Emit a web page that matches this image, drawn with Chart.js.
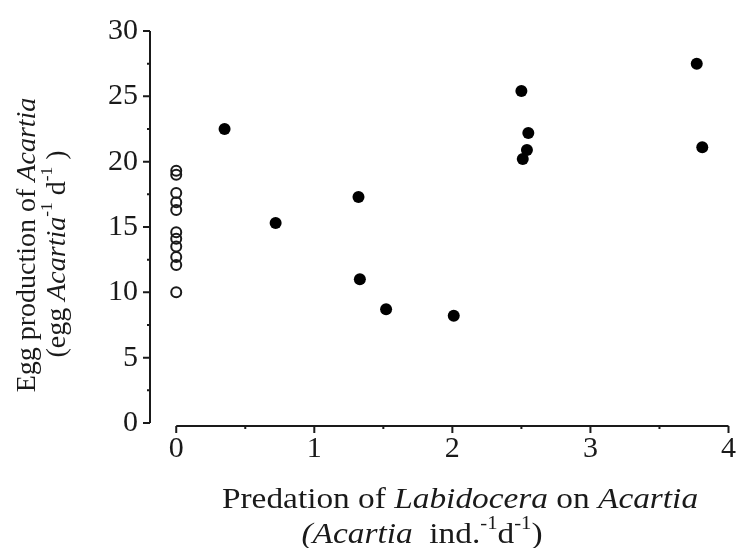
<!DOCTYPE html>
<html>
<head>
<meta charset="utf-8">
<script src="https://cdn.jsdelivr.net/npm/chart.js@4/dist/chart.umd.min.js"></script>
<style>
  html, body { margin: 0; padding: 0; background: #fff; }
  canvas { display: block; }
</style>
</head>
<body>
<canvas id="grafico" width="736" height="548"></canvas>
<script>
// data
const controlX = [0, 0, 0, 0, 0, 0, 0, 0, 0, 0, 0];
const controlY = [19.3, 19.0, 17.6, 16.9, 16.3, 14.6, 14.1, 13.5, 12.7, 12.1, 10.0];
const predationX = [0.35, 0.72, 1.32, 1.33, 1.52, 2.01, 2.50, 2.55, 2.54, 2.51, 3.77, 3.81];
const eggY = [22.5, 15.3, 17.3, 11.0, 8.7, 8.2, 25.4, 22.2, 20.9, 20.2, 27.5, 21.1];
const xTicks = [0, 1, 2, 3, 4];
const yTicks = [0, 5, 10, 15, 20, 25, 30];

const serif = '"Liberation Serif", "Times New Roman", serif';
const ink = "#1a1a1a";

function drawRich(ctx, segs, cx, cy, size, angle, sx) {
  const fontFor = (kind) => {
    const sz = kind === "s" ? size * 0.62 : size;
    return (kind === "i" ? "italic " : "") + sz + "px " + serif;
  };
  let total = 0;
  segs.forEach(([t, k]) => { ctx.font = fontFor(k); total += ctx.measureText(t).width; });
  ctx.save();
  ctx.translate(cx, cy);
  ctx.rotate(angle);
  ctx.scale(sx, 1);
  ctx.fillStyle = ink;
  ctx.textBaseline = "middle";
  ctx.textAlign = "left";
  let x = -total / 2;
  segs.forEach(([t, k]) => {
    ctx.font = fontFor(k);
    ctx.fillText(t, x, k === "s" ? -size * 0.36 : 0);
    x += ctx.measureText(t).width;
  });
  ctx.restore();
}

const axesPlugin = {
  id: "axesPlugin",
  afterDraw(chart) {
    const ctx = chart.ctx;
    const xs = chart.scales.x, ys = chart.scales.y;
    const left = chart.chartArea.left;
    const base = chart.chartArea.bottom + 3;
    ctx.save();
    ctx.strokeStyle = ink;
    ctx.lineWidth = 2;
    // y axis
    ctx.beginPath();
    ctx.moveTo(left, ys.getPixelForValue(30));
    ctx.lineTo(left, ys.getPixelForValue(0));
    for (let v = 0; v <= 30; v += 2.5) {
      const py = ys.getPixelForValue(v);
      ctx.moveTo(left, py);
      ctx.lineTo(left - (v % 5 === 0 ? 7 : 3), py);
    }
    ctx.stroke();
    // x axis
    ctx.beginPath();
    ctx.moveTo(xs.getPixelForValue(0), base);
    ctx.lineTo(xs.getPixelForValue(4), base);
    for (let v = 0; v <= 4; v += 0.5) {
      const px = xs.getPixelForValue(v);
      ctx.moveTo(px, base);
      ctx.lineTo(px, base + (v % 1 === 0 ? 7 : 3));
    }
    ctx.stroke();
    ctx.restore();

    // axis titles
    drawRich(ctx, [["Egg production of ", "n"], ["Acartia", "i"]], 28, 245, 28, -Math.PI / 2, 1);
    drawRich(ctx, [["(egg ", "n"], ["Acartia", "i"], ["-1", "s"], [" d", "n"], ["-1", "s"], [" )", "n"]],
      58, 254, 28, -Math.PI / 2, 1);
    drawRich(ctx, [["Predation of ", "n"], ["Labidocera", "i"], [" on ", "n"], ["Acartia", "i"]],
      460, 500, 29, 0, 1.15);
    drawRich(ctx, [["(", "i"], ["Acartia", "i"], ["  ind.", "n"], ["-1", "s"], ["d", "n"], ["-1", "s"], [")", "n"]],
      422, 535, 29, 0, 1.15);
  }
};

const ctx = document.getElementById("grafico").getContext("2d");

new Chart(ctx, {
  type: "scatter",
  data: {
    datasets: [
      {
        label: "Control",
        data: controlX.map((x, i) => ({ x: x, y: controlY[i] })),
        pointStyle: "circle",
        pointRadius: 5,
        pointBorderWidth: 2,
        borderColor: ink,
        backgroundColor: "rgba(255,255,255,0)"
      },
      {
        label: "Labidocera",
        data: predationX.map((x, i) => ({ x: x, y: eggY[i] })),
        pointStyle: "circle",
        pointRadius: 6,
        pointBorderWidth: 0,
        borderColor: "#000",
        backgroundColor: "#000"
      }
    ]
  },
  options: {
    responsive: false,
    devicePixelRatio: 1,
    animation: false,
    clip: false,
    layout: { padding: { left: 0, right: 6, top: 31, bottom: 0 } },
    plugins: { legend: { display: false }, tooltip: { enabled: false } },
    scales: {
      x: {
        type: "linear",
        min: -0.19,
        max: 4,
        grid: { display: false },
        border: { display: false },
        afterBuildTicks: (s) => { s.ticks = xTicks.map(v => ({ value: v })); },
        afterFit: (s) => { s.height = 125; },
        ticks: { color: ink, padding: 0, font: { family: serif, size: 30 } }
      },
      y: {
        min: 0,
        max: 30,
        grid: { display: false },
        border: { display: false },
        afterBuildTicks: (s) => { s.ticks = yTicks.map(v => ({ value: v })); },
        afterFit: (s) => { s.width = 150; },
        ticks: { color: ink, padding: 4, font: { family: serif, size: 30 } }
      }
    }
  },
  plugins: [axesPlugin]
});
</script>
</body>
</html>
